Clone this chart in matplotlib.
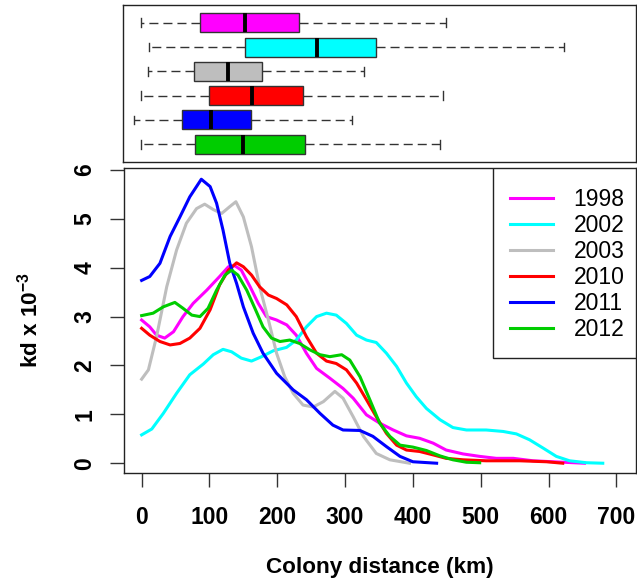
import numpy as np
import matplotlib
matplotlib.use('Agg')
import matplotlib.pyplot as plt
from matplotlib.patches import Rectangle

plt.rcParams['font.family'] = ['Liberation Sans', 'DejaVu Sans']
plt.rcParams['mathtext.default'] = 'regular'

# ===== 数据 =====
years = ['1998', '2002', '2003', '2010', '2011', '2012']
colors = ['#FF00FF', '#00FFFF', '#BEBEBE', '#FF0000', '#0000FF', '#00CD00']

# 箱线图统计量 (km): 下须, Q1, 中位数, Q3, 上须
whis_lo = [0, 13, 11, 0, -10, 0]
q1 = [88, 153, 78, 101, 61, 80]
med = [153, 260, 128, 164, 103, 151]
q3 = [233, 347, 178, 239, 162, 242]
whis_hi = [449, 623, 329, 445, 311, 441]

# 核密度曲线 (x: km, y: kd x 10^-3)
x_1998 = [0, 12, 22, 34, 47, 61, 76, 96, 115, 128, 137.5, 147, 160, 172, 184, 199, 214, 228, 243, 258,
          277.5, 297, 312, 331.5, 351, 371, 390.5, 410, 430, 449, 474, 498.5, 523, 548, 577, 606.5, 653]
y_1998 = [2.93, 2.79, 2.62, 2.56, 2.69, 3.0, 3.27, 3.54, 3.82, 4.02, 4.04, 3.95, 3.61, 3.27, 3.0, 2.93, 2.83,
          2.62, 2.25, 1.94, 1.74, 1.53, 1.33, 0.99, 0.82, 0.68, 0.56, 0.51, 0.41, 0.27, 0.19, 0.14, 0.10,
          0.10, 0.05, 0.03, 0.0]

x_2002 = [0, 15, 32, 51.5, 71, 91, 105.6, 120, 132.6, 147, 162, 177, 194, 213.7, 228, 243, 258, 272.6, 287,
          302, 317, 331.5, 346, 361, 376, 390.5, 405, 420, 440, 459, 479, 508, 533, 552.6, 572, 592, 611.5,
          631, 656, 680]
y_2002 = [0.58, 0.70, 1.02, 1.43, 1.81, 2.03, 2.22, 2.33, 2.28, 2.15, 2.09, 2.18, 2.30, 2.37, 2.52, 2.79,
          3.0, 3.07, 3.03, 2.86, 2.62, 2.52, 2.47, 2.25, 1.98, 1.64, 1.36, 1.12, 0.89, 0.73, 0.68, 0.68,
          0.65, 0.60, 0.48, 0.31, 0.14, 0.05, 0.01, 0.0]

x_2003 = [0, 10, 22, 37, 51.5, 66, 81, 93, 105.6, 118, 130, 139, 150, 162, 174, 187, 199, 211, 223.5, 238,
          253, 268, 285, 297, 312, 327, 346, 366, 395]
y_2003 = [1.72, 1.91, 2.59, 3.61, 4.36, 4.91, 5.21, 5.30, 5.19, 5.11, 5.25, 5.35, 5.04, 4.43, 3.61, 2.93,
          2.25, 1.77, 1.43, 1.19, 1.15, 1.26, 1.47, 1.33, 0.95, 0.55, 0.20, 0.07, 0.0]

x_2010 = [0, 12, 27, 42, 56.5, 71, 86, 101, 115, 128, 140, 150, 162, 174, 187, 199, 214, 228, 243, 258,
          272.6, 287, 302, 317, 331.5, 346, 361, 376, 390.5, 410, 430, 449, 474, 508, 557.5, 597, 621]
y_2010 = [2.76, 2.62, 2.49, 2.42, 2.45, 2.56, 2.76, 3.14, 3.65, 3.95, 4.10, 4.02, 3.85, 3.61, 3.44, 3.37,
          3.24, 3.0, 2.59, 2.25, 2.09, 2.04, 1.91, 1.64, 1.30, 0.95, 0.61, 0.37, 0.27, 0.24, 0.17, 0.10,
          0.07, 0.05, 0.05, 0.03, 0.0]

x_2011 = [0, 12, 27, 42, 56.5, 71, 88, 101, 110.5, 120, 130, 140, 150, 164.5, 179, 199, 223.5, 243, 263,
          282, 297, 322, 341, 361, 381, 400, 435]
y_2011 = [3.74, 3.82, 4.09, 4.64, 5.04, 5.45, 5.81, 5.66, 5.32, 4.77, 4.09, 3.68, 3.2, 2.66, 2.25, 1.84,
          1.5, 1.3, 1.02, 0.78, 0.68, 0.67, 0.55, 0.34, 0.14, 0.03, 0.0]

x_2012 = [0, 17, 32, 49, 61, 74, 86, 98, 110.5, 123, 132.6, 142, 155, 167, 179, 191.5, 204, 218.5, 233,
          248, 263, 277.5, 295, 307, 322, 336.5, 351, 366, 381, 400, 420, 440, 459, 479, 498.5]
y_2012 = [3.02, 3.07, 3.20, 3.29, 3.17, 3.03, 3.0, 3.17, 3.54, 3.85, 3.95, 3.85, 3.54, 3.17, 2.79, 2.56,
          2.49, 2.52, 2.45, 2.32, 2.22, 2.18, 2.22, 2.11, 1.77, 1.30, 0.82, 0.55, 0.37, 0.33, 0.26, 0.15,
          0.07, 0.02, 0.01]

curves_x = [x_1998, x_2002, x_2003, x_2010, x_2011, x_2012]
curves_y = [y_1998, y_2002, y_2003, y_2010, y_2011, y_2012]

# ===== 画布 =====
W, H = 637, 588
fig = plt.figure(figsize=(W / 100, H / 100), dpi=100)


def frac(left, top, right, bottom):
    return [left / W, 1 - bottom / H, (right - left) / W, (bottom - top) / H]


ax_box = fig.add_axes(frac(123, 5, 636, 162))
ax = fig.add_axes(frac(124, 168, 636, 473))
xlim = (-26, 729)

# ===== 顶部箱线图 =====
stats = []
for i in range(len(years)):
    stats.append({'med': med[i], 'q1': q1[i], 'q3': q3[i],
                  'whislo': whis_lo[i], 'whishi': whis_hi[i], 'fliers': []})
positions = list(range(len(years), 0, -1))
bp = ax_box.bxp(stats, positions=positions, orientation='horizontal', widths=0.78,
                patch_artist=True, showfliers=False,
                boxprops=dict(edgecolor='#333333', linewidth=1.0),
                medianprops=dict(color='black', linewidth=2.8, solid_capstyle='butt'),
                whiskerprops=dict(color='#333333', linewidth=1.0, dashes=(6.5, 3.6)),
                capprops=dict(color='#333333', linewidth=1.0), capwidths=0.36)
for patch, c in zip(bp['boxes'], colors):
    patch.set_facecolor(c)
ax_box.set_xlim(*xlim)
ax_box.set_ylim(0.27, 6.73)
ax_box.set_xticks([])
ax_box.set_yticks([])
for s in ax_box.spines.values():
    s.set_color('#222222')
    s.set_linewidth(1.0)

# ===== 密度曲线 =====
for xs, ys, c, lab in zip(curves_x, curves_y, colors, years):
    ax.plot(xs, ys, color=c, linewidth=2.2, label=lab, solid_joinstyle='round')

ax.set_xlim(*xlim)
ax.set_ylim(-0.2, 6.04)
ax.set_xticks(np.arange(0, 701, 100))
ax.set_yticks(np.arange(0, 7, 1))
ax.tick_params(direction='out', length=10, width=1.0, color='#333333', labelsize=16.5)
ax.tick_params(axis='x', pad=14)
ax.tick_params(axis='y', pad=10, labelrotation=90)
for lab in ax.get_xticklabels() + ax.get_yticklabels():
    lab.set_fontweight('bold')
for lab in ax.get_yticklabels():
    lab.set_va('center')
for s in ax.spines.values():
    s.set_color('#222222')
    s.set_linewidth(1.0)

ax.set_xlabel('Colony distance (km)', fontsize=16.2, fontweight='bold')
ax.xaxis.set_label_coords(0.5, -0.275)
ax.set_ylabel(r'kd x 10$^{-3}$', fontsize=16.2, fontweight='bold')
ax.yaxis.set_label_coords(-0.16, 0.5)

# 图例：外框单独画，内容居中放置
ax.add_patch(Rectangle((0.7207, 0.377), 0.2793, 0.623, transform=ax.transAxes,
                       facecolor='white', edgecolor='#222222', linewidth=1.0, zorder=4))
leg = ax.legend(loc='center', bbox_to_anchor=(0.866, 0.685), fontsize=16.5, frameon=False,
                borderaxespad=0, borderpad=0, handlelength=1.85, handletextpad=0.9,
                labelspacing=0.13)
leg.set_zorder(5)

fig.savefig('out.png', dpi=100)
